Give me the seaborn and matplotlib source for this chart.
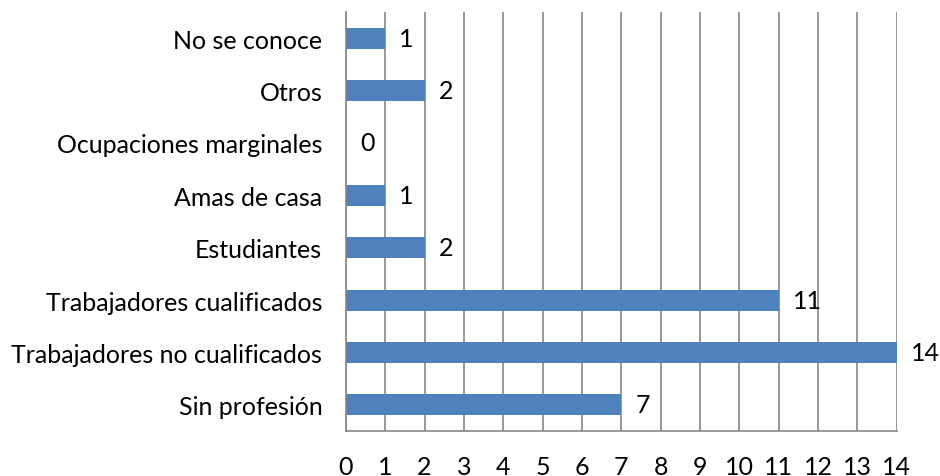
import pandas as pd
import matplotlib.pyplot as plt
import seaborn as sns

# Data
categorias = ['No se conoce', 'Otros', 'Ocupaciones marginales', 'Amas de casa',
              'Estudiantes', 'Trabajadores cualificados',
              'Trabajadores no cualificados', 'Sin profesión']
valores = [1, 2, 0, 1, 2, 11, 14, 7]
xticks = list(range(0, 15))

df = pd.DataFrame({'categoria': categorias, 'valor': valores})

sns.set_style('white')
plt.rcParams['font.family'] = ['Lato', 'DejaVu Sans']

fig = plt.figure(figsize=(9.4, 4.77), dpi=100)
ax = fig.add_axes([0.368, 0.094, 0.586, 0.879])

sns.barplot(data=df, x='valor', y='categoria', orient='h', color='#4F81BD',
            saturation=1, width=0.4, linewidth=0, ax=ax)

ax.set_xlim(0, 14)
ax.set_xticks(xticks)
ax.set_ylim(len(categorias) - 0.5, -0.5)
ax.grid(axis='x', color='#868686', linewidth=1.2)
ax.set_axisbelow(True)
for s in ['top', 'right']:
    ax.spines[s].set_visible(False)
for s in ['left', 'bottom']:
    ax.spines[s].set_color('#868686')
    ax.spines[s].set_linewidth(1.2)
ax.tick_params(axis='x', length=0, pad=17, labelsize=18, labelcolor='black')
ax.tick_params(axis='y', length=0, pad=17, labelsize=18, labelcolor='black')
ax.set_xlabel('')
ax.set_ylabel('')

for c in ax.containers:
    ax.bar_label(c, padding=10, fontsize=18, color='black')

fig.savefig('out.png', dpi=100)
